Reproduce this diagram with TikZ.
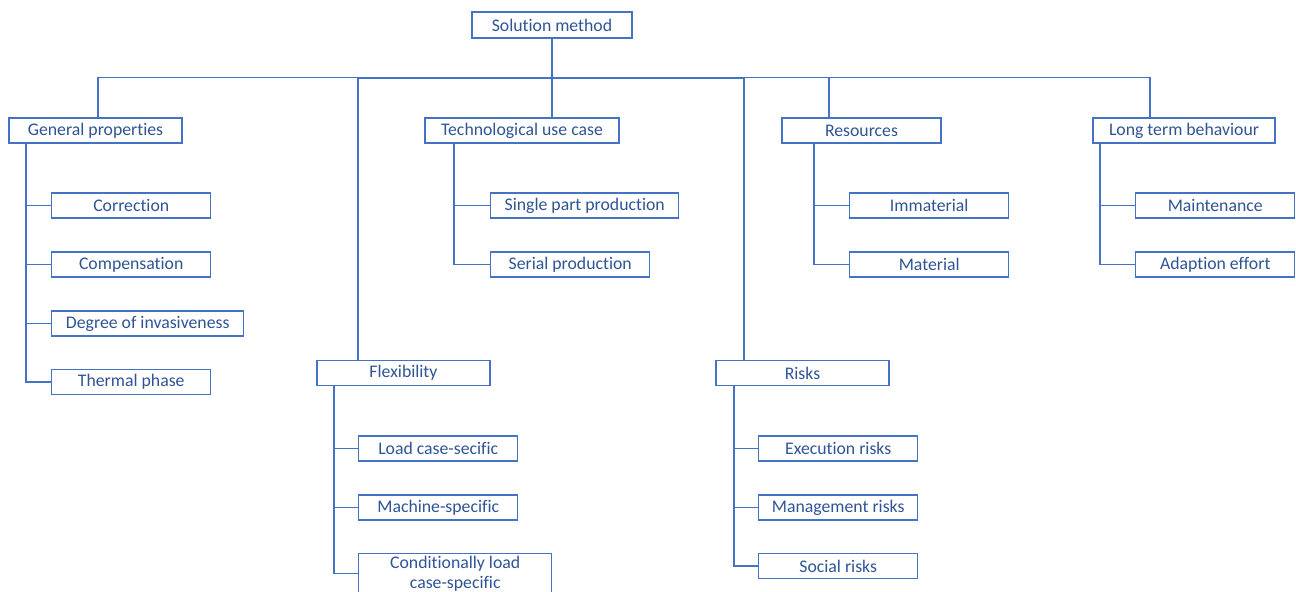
\documentclass[tikz,border=0pt]{standalone}
\usepackage{fontspec}
\setmainfont[Ligatures=NoCommon]{Carlito}
\usetikzlibrary{positioning, calc}
\definecolor{lineblue}{HTML}{4472C4}
\definecolor{textblue}{HTML}{2F5496}

\begin{document}
\begin{tikzpicture}[
    x=0.75pt, y=-0.75pt,
    every node/.style={font=\fontsize{13.3}{14}\selectfont, text=textblue},
    box/.style={draw=lineblue, line width=1.1pt, fill=white, minimum height=18.75pt, inner sep=1pt},
    leaf/.style={box, minimum width=119.25pt},
    cat/.style={box, minimum width=129.75pt},
    link/.style={draw=lineblue, line width=1.2pt},
]
\useasboundingbox (0,0) rectangle (1296,592);

% Root
\node[box, minimum width=120pt, minimum height=19.5pt] (root) at (552,25) {Solution method};

% Second level
\node[cat] (gen) at (95.5,130.5) {General properties};
\node[box, minimum width=145.5pt] (tech) at (522,130.5) {Technological use case};
\node[leaf] (res) at (861.5,130.5) {Resources};
\node[box, minimum width=136.5pt] (long) at (1184,130.5) {Long term behaviour};
\node[cat] (flex) at (403.5,373) {Flexibility};
\node[cat] (risk) at (802.5,373) {Risks};

% Taps on the bus line
\coordinate (tapG) at (98,77.5);
\coordinate (tapT) at (552,77.5);
\coordinate (tapR) at (829,77.5);
\coordinate (tapL) at (1150,77.5);
\coordinate (tapF) at (358,78.7);
\coordinate (tapK) at (744,78.7);

\foreach \t/\c in {tapG/gen, tapT/tech, tapR/res, tapL/long, tapF/flex, tapK/risk}
  \draw[link] (root.south) |- (\t) -- (\t |- \c.north);

% General properties
\node[leaf, anchor=west] (cor) at (51,205.5) {Correction};
\node[leaf, anchor=west] (comp) at (51,264.5) {Compensation};
\node[box, minimum width=144pt, anchor=west] (deg) at (51,323.5) {Degree of invasiveness};
\node[leaf, anchor=west] (therm) at (51,382) {Thermal phase};
\foreach \c in {cor, comp, deg, therm}
  \draw[link] ($(gen.south west)+(18,0)$) |- (\c.west);

% Technological use case
\node[box, minimum width=141pt, anchor=west] (single) at (490,205.5) {Single part production};
\node[leaf, anchor=west] (serial) at (490,264.5) {Serial production};
\foreach \c in {single, serial}
  \draw[link] ($(tech.south west)+(30,0)$) |- (\c.west);

% Resources
\node[leaf, anchor=west] (immat) at (849,205.5) {Immaterial};
\node[leaf, anchor=west] (mat) at (849,264.5) {Material};
\foreach \c in {immat, mat}
  \draw[link] ($(res.south west)+(33,0)$) |- (\c.west);

% Long term behaviour
\node[leaf, anchor=west] (maint) at (1135,205.5) {Maintenance};
\node[leaf, anchor=west] (adapt) at (1135,264.5) {Adaption effort};
\foreach \c in {maint, adapt}
  \draw[link] ($(long.south west)+(8,0)$) |- (\c.west);

% Flexibility
\node[leaf, anchor=west] (loadc) at (358,448.5) {Load case-secific};
\node[leaf, anchor=west] (mach) at (358,507.5) {Machine-specific};
\node[box, minimum width=144.75pt, minimum height=30pt, anchor=west, align=center,
      font=\fontsize{13.3}{15}\selectfont] (cond) at (358,573.5) {Conditionally load\\case-specific};
\foreach \c in {loadc, mach, cond}
  \draw[link] ($(flex.south west)+(18,0)$) |- (\c.west);

% Risks
\node[leaf, anchor=west] (exec) at (758,448.5) {Execution risks};
\node[leaf, anchor=west] (manag) at (758,507.5) {Management risks};
\node[leaf, anchor=west] (social) at (758,566) {Social risks};
\foreach \c in {exec, manag, social}
  \draw[link] ($(risk.south west)+(19,0)$) |- (\c.west);
\end{tikzpicture}
\end{document}
